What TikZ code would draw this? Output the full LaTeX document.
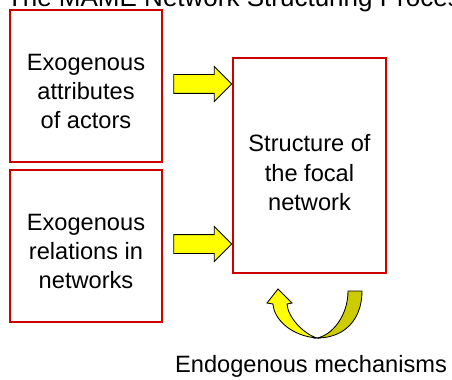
\documentclass[tikz,border=0pt]{standalone}
\usepackage{fontspec}
\setmainfont{Liberation Sans}
\usetikzlibrary{arrows.meta,calc,positioning,shapes.arrows}
\definecolor{boxred}{RGB}{204,0,0}
\definecolor{arrowyellow}{RGB}{255,255,0}
\definecolor{arrowolive}{RGB}{204,204,0}

\begin{document}
\begin{tikzpicture}[
  box/.style={draw=boxred, line width=1.2pt, inner sep=0pt},
  boxtext/.style={align=center, yshift=-0.14cm, font=\fontsize{16.8}{20.8}\selectfont},
  blockarrow/.style={single arrow, draw=black, fill=arrowyellow, line width=0.6pt,
    minimum height=1.45cm, single arrow head extend=0.2cm,
    inner xsep=0pt, inner ysep=0.225cm}
]
  \useasboundingbox (0,0) rectangle (11.3,-9.475);
  \clip (0,0) rectangle (11.3,-9.475);

  % Title (cut off at the top)
  \node[anchor=base west, font=\fontsize{18.5}{22}\selectfont] (title) at (0.05,-0.175)
    {The MAME Network Structuring Process};

  % Boxes
  \node[box, minimum width=3.8cm, minimum height=3.8cm,
    label={[boxtext]center:Exogenous\\attributes\\of actors}] (attr) at (2.15,-2.15) {};
  \node[box, minimum width=3.8cm, minimum height=3.8cm,
    label={[boxtext]center:Exogenous\\relations in\\networks}] (rel) at (2.15,-6.15) {};
  \node[box, minimum width=3.825cm, minimum height=5.375cm,
    label={[boxtext, yshift=-0.04cm]center:Structure of\\the focal\\network}] (focal) at (7.7375,-4.1375) {};

  % Block arrows
  \node[blockarrow] (arrA) at (4.95,-2.1) {};
  \node[blockarrow] (arrB) at (4.95,-6.1) {};

  % Curved arrow below the focal network
  \draw[fill=arrowolive, line width=0.6pt] (9.05,-7.275)
    .. controls (9.05,-8.0) and (8.6,-8.45) .. (7.925,-8.45)
    .. controls (8.3,-8.38) and (8.7,-7.9) .. (8.7,-7.275) -- cycle;
  \draw[fill=arrowyellow, line width=0.6pt] (7.925,-8.45)
    .. controls (7.3,-8.4) and (6.85,-8.0) .. (6.825,-7.6)
    -- (6.675,-7.575) -- (6.95,-7.225) -- (7.3,-7.575) -- (7.175,-7.6)
    .. controls (7.2,-7.95) and (7.6,-8.35) .. cycle;

  \node[font=\fontsize{16.8}{20.8}\selectfont] (endo) at (7.775,-9.15) {Endogenous mechanisms};
\end{tikzpicture}
\end{document}
